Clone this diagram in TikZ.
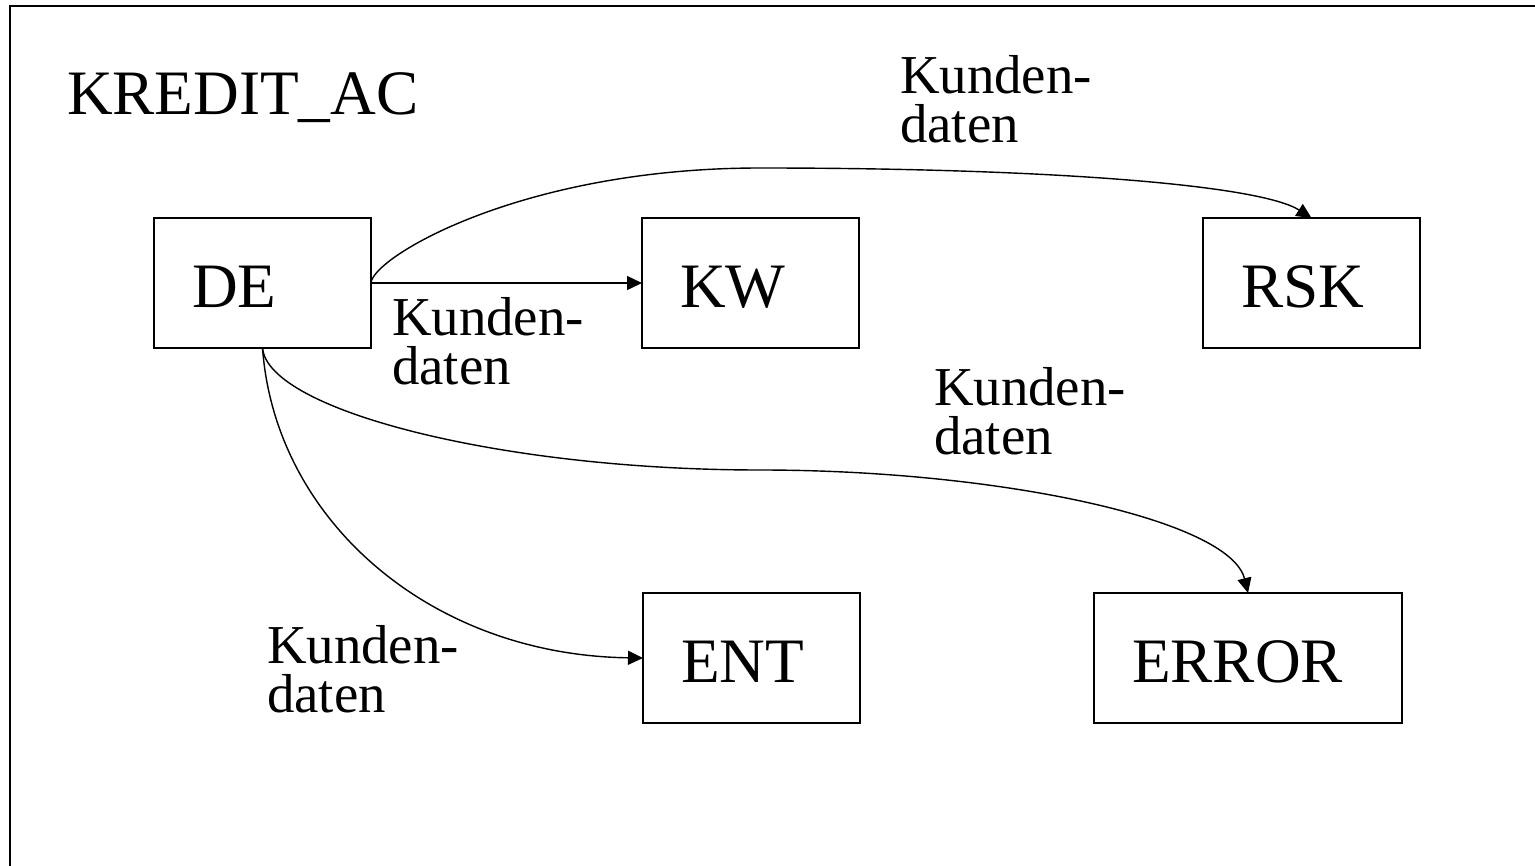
\documentclass[tikz,border=0pt]{standalone}
\usepackage{fontspec}
\setmainfont{Liberation Serif}
\usetikzlibrary{arrows.meta}
\begin{document}
\begin{tikzpicture}[x=0.025cm,y=-0.025cm,
  every node/.style={inner sep=0pt, outer sep=0pt},
  proc/.style={draw, line width=1.3pt, anchor=north west, minimum height=3.25cm,
    inner xsep=0.95cm, align=left, text width=#1,
    text height=1.22cm, text depth=0cm,
    font=\fontsize{45}{54}\selectfont},
  proc/.default=3.525cm,
  flowlabel/.style={anchor=north west, align=left, font=\fontsize{39}{35}\selectfont},
  flow/.style={line width=1pt, -{Triangle[length=0.375cm,width=0.35cm]}}]

\useasboundingbox (0,0) rectangle (1535,866);

% frame
\draw[line width=1.5pt] (10,866) -- (10,6) -- (1535,6);

% title
\node[anchor=base west, font=\fontsize{45}{54}\selectfont] (title) at (67,115) {KREDIT\_AC};

% processes
\node[proc] (de)  at (154,218)  {DE};
\node[proc] (kw)  at (642,218)  {KW};
\node[proc] (rsk) at (1203,218) {RSK};
\node[proc] (ent) at (643,593)  {ENT};
\node[proc=5.8cm] (err) at (1094,593) {ERROR};

% data flows
\draw[flow] (de.east) -- (kw.west);
\draw[flow] (de.east) .. controls (372,258) and (520,168) .. (760,168)
  .. controls (1050,168) and (1260,185) .. (rsk.north);
\draw[flow] (de.south) .. controls (275,520) and (430,655) .. (ent.west);
\draw[flow] (de.south) .. controls (268,410) and (500,470) .. (760,470)
  .. controls (1000,470) and (1230,520) .. (err.north);

% flow labels
\node[flowlabel] (l1) at (392,297) {Kunden-\\daten};
\node[flowlabel] (l2) at (900,55)  {Kunden-\\daten};
\node[flowlabel] (l3) at (934,367) {Kunden-\\daten};
\node[flowlabel] (l4) at (267,625) {Kunden-\\daten};
\end{tikzpicture}
\end{document}
